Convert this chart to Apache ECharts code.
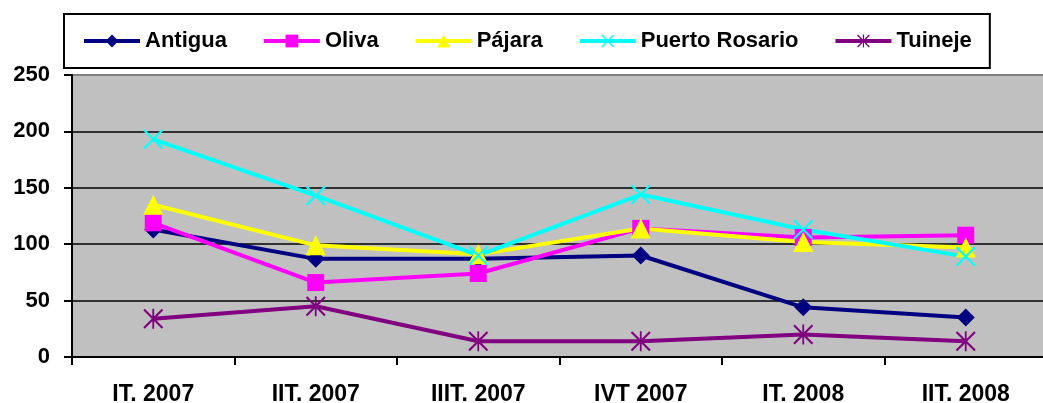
<!DOCTYPE html>
<html>
<head>
<meta charset="utf-8">
<script src="https://cdn.jsdelivr.net/npm/echarts@6/dist/echarts.min.js"></script>
<style>
  html, body { margin: 0; padding: 0; background: #fff; }
  #chart { width: 1043px; height: 403px; }
</style>
</head>
<body>
<div id="chart"></div>
<script>
// Quarterly values per municipality
const categories = ['IT. 2007', 'IIT. 2007', 'IIIT. 2007', 'IVT 2007', 'IT. 2008', 'IIT. 2008'];
const antigua = [113, 87, 87, 90, 44, 35];
const oliva = [119, 66, 74, 114, 106, 108];
const pajara = [135, 99, 91, 114, 102, 97];
const puertoRosario = [193, 143, 90, 144, 113, 89];
const tuineje = [34, 45, 14, 14, 20, 14];
const seriesNames = ['Antigua', 'Oliva', 'Pájara', 'Puerto Rosario', 'Tuineje'];
const yTicks = [0, 50, 100, 150, 200, 250];

// Thin-stroke marker shapes built as filled outlines
const crossPath = 'path://M0,1.5L1.5,0L20,18.5L18.5,20ZM20,1.5L1.5,20L0,18.5L18.5,0Z';
const starPath = 'path://M0,1.5L1.5,0L20,18.5L18.5,20ZM20,1.5L1.5,20L0,18.5L18.5,0ZM9.1,0L10.9,0L10.9,20L9.1,20Z';

const font = "'Liberation Sans', Arial, sans-serif";

const styles = [
  { color: '#000080', symbol: 'diamond', size: 18 },
  { color: '#FF00FF', symbol: 'rect', size: 17 },
  { color: '#FFFF00', symbol: 'triangle', size: 20 },
  { color: '#00FFFF', symbol: crossPath, size: 20 },
  { color: '#800080', symbol: starPath, size: 20 }
];
const dataSets = [antigua, oliva, pajara, puertoRosario, tuineje];

const chart = echarts.init(document.getElementById('chart'), null, { renderer: 'canvas' });

chart.setOption({
  animation: false,
  backgroundColor: '#ffffff',
  legend: {
    left: 64,
    top: 14,
    padding: [16, 18, 16, 18],
    borderColor: '#000',
    borderWidth: 2,
    itemGap: 35,
    itemWidth: 56,
    itemHeight: 16,
    lineStyle: { width: 4 },
    textStyle: { fontFamily: font, fontWeight: 'bold', fontSize: 22, color: '#000' },
    data: seriesNames
  },
  grid: {
    left: 72,
    top: 75,
    width: 975,
    height: 282,
    outerBoundsMode: 'none',
    show: true,
    backgroundColor: '#C0C0C0',
    borderColor: '#808080',
    borderWidth: 2
  },
  xAxis: {
    type: 'category',
    data: categories,
    boundaryGap: true,
    axisLine: { lineStyle: { color: '#000', width: 2 } },
    axisTick: { show: true, length: 8, lineStyle: { color: '#000', width: 2 } },
    axisLabel: { margin: 26, fontFamily: font, fontWeight: 'bold', fontSize: 23, color: '#000' }
  },
  yAxis: {
    type: 'value',
    min: yTicks[0],
    max: yTicks[yTicks.length - 1],
    interval: 50,
    axisLine: { show: true, lineStyle: { color: '#000', width: 2 } },
    axisTick: { show: true, length: 8, lineStyle: { color: '#000', width: 2 } },
    axisLabel: { margin: 22, fontFamily: font, fontWeight: 'bold', fontSize: 22, color: '#000' },
    splitLine: { show: true, showMaxLine: false, lineStyle: { color: '#000', width: 1.5 } }
  },
  series: seriesNames.map((name, i) => ({
    name: name,
    type: 'line',
    data: dataSets[i],
    symbol: styles[i].symbol,
    symbolSize: styles[i].size,
    showAllSymbol: true,
    color: styles[i].color,
    lineStyle: { color: styles[i].color, width: 4 },
    itemStyle: { color: styles[i].color },
    emphasis: { disabled: true }
  }))
});
</script>
</body>
</html>
